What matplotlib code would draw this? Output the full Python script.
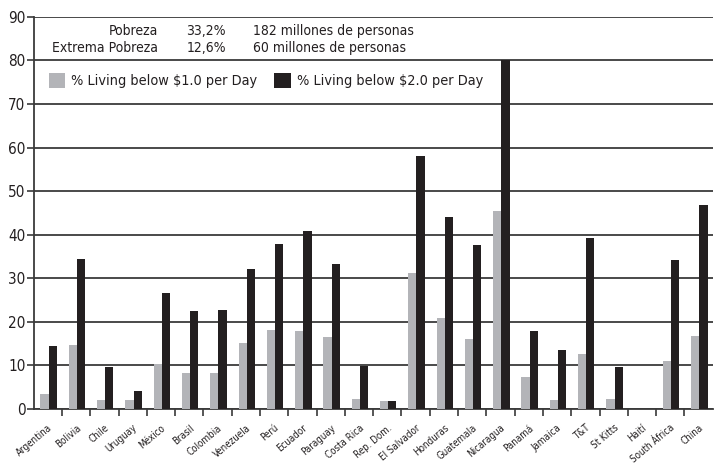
import matplotlib
matplotlib.use('Agg')
import matplotlib.pyplot as plt
import numpy as np

plt.rcParams['font.family'] = ['DejaVu Sans']
plt.rcParams['font.stretch'] = 'condensed'

countries = ['Argentina', 'Bolivia', 'Chile', 'Uruguay', 'México', 'Brasil',
             'Colombia', 'Venezuela', 'Perú', 'Ecuador', 'Paraguay', 'Costa Rica',
             'Rep. Dom.', 'El Salvador', 'Honduras', 'Guatemala', 'Nicaragua',
             'Panamá', 'Jamaica', 'T&T', 'St Kitts', 'Haití', 'South África', 'China']
below_1 = [3.4, 14.7, 2.0, 2.0, 10.2, 8.3, 8.3, 15.1, 18.1, 18.0, 16.5, 2.2,
           1.9, 31.1, 20.8, 16.1, 45.4, 7.4, 2.0, 12.6, 2.2, 0.0, 10.9, 16.8]
below_2 = [14.5, 34.4, 9.7, 4.0, 26.5, 22.5, 22.7, 32.1, 37.8, 40.8, 33.3, 9.8,
           1.9, 58.1, 44.1, 37.6, 80.0, 17.8, 13.5, 39.3, 9.7, 0.0, 34.2, 46.8]

gray = '#b3b4b8'
black = '#231f20'
line = '#3a3a3a'

fig = plt.figure(figsize=(7.17, 4.70), dpi=100)
ax = fig.add_axes([0.047, 0.130, 0.947, 0.834])

x = np.arange(len(countries))
w = 0.29
ax.bar(x - w/2 + 0.03, below_1, w, color=gray, label='% Living below $1.0 per Day', zorder=3)
ax.bar(x + w/2 + 0.03, below_2, w, color=black, label='% Living below $2.0 per Day', zorder=3)

ax.set_xlim(-0.5, len(countries) - 0.5)
ax.set_ylim(0, 90)
ax.set_yticks(np.arange(0, 91, 10))
ax.yaxis.grid(True, color=line, linewidth=1.3, zorder=1)
ax.tick_params(axis='y', labelsize=11, length=5, width=1.2, color=line, pad=1,
               labelcolor='#231f20')

ax.set_xticks(x)
ax.set_xticklabels(countries, rotation=40, ha='right', rotation_mode='anchor',
                   fontsize=7, color='#231f20')
ax.tick_params(axis='x', which='major', length=0, pad=10)
ax.set_xticks(np.arange(0.5, len(countries) - 0.5, 1), minor=True)
ax.tick_params(axis='x', which='minor', length=5, width=1.2, color=line)

for s in ['top', 'right']:
    ax.spines[s].set_visible(False)
for s in ['left', 'bottom']:
    ax.spines[s].set_color(line)
    ax.spines[s].set_linewidth(1.3)

# header text
tk = dict(transform=ax.transAxes, fontsize=10, va='center', color='#231f20')
ax.text(0.183, 0.964, 'Pobreza', ha='right', **tk)
ax.text(0.283, 0.964, '33,2%', ha='right', **tk)
ax.text(0.3225, 0.964, '182 millones de personas', ha='left', **tk)
ax.text(0.183, 0.921, 'Extrema Pobreza', ha='right', **tk)
ax.text(0.283, 0.921, '12,6%', ha='right', **tk)
ax.text(0.3225, 0.921, '60 millones de personas', ha='left', **tk)

leg = ax.legend(loc='center left', bbox_to_anchor=(0.022, 0.837), ncol=2, frameon=False,
                fontsize=10.4, handlelength=1.15, handleheight=1.15, handletextpad=0.4,
                columnspacing=1.2, borderaxespad=0.0, borderpad=0.0)
for t in leg.get_texts():
    t.set_color('#231f20')

fig.savefig('out.png', dpi=100)
